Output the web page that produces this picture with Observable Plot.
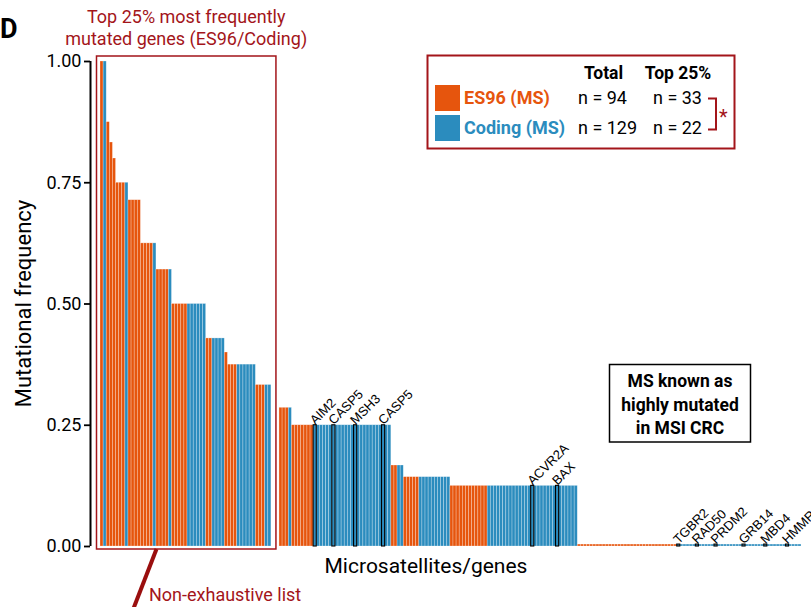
<!DOCTYPE html>
<html>
<head>
<meta charset="utf-8">
<script src="https://cdn.jsdelivr.net/npm/d3@7"></script>
<script src="https://cdn.jsdelivr.net/npm/@observablehq/plot@0.6"></script>
<style>
  html, body { margin: 0; padding: 0; background: white; }
  #chart { width: 811px; height: 607px; overflow: hidden; }
</style>
</head>
<body>
<div id="chart"></div>
<script>
// ---- data ----
// Runs of consecutive bars, sorted by mutational frequency
const groupTypes  = ["ES96","Coding","ES96","ES96","ES96","ES96","Coding","ES96","ES96","Coding","ES96","Coding","ES96","Coding","ES96","Coding","ES96","ES96","Coding","ES96","Coding",
                     "ES96","Coding","ES96","Coding","ES96","Coding","ES96","Coding","ES96","Coding","ES96","Coding"];
const groupValues = [1.00,1.00,0.875,0.833,0.80,0.75,0.75,0.714,0.625,0.625,0.571,0.571,0.50,0.50,0.429,0.429,0.40,0.375,0.375,0.333,0.333,
                     0.286,0.286,0.25,0.25,0.167,0.167,0.143,0.143,0.125,0.125,0.004,0.004];
const groupCounts = [1,1,1,1,1,3,1,4,4,1,4,1,5,6,2,4,1,3,6,3,2,
                     3,1,7,25,2,2,5,10,12,29,32,40];
const topN = 55; // bars inside the "Top 25%" box (33 ES96 + 22 Coding)

const geneLabels = ["AIM2","CASP5","MSH3","CASP5","ACVR2A","BAX","TGBR2","RAD50","PRDM2","GRB14","MBD4","HMMR"];
const geneIndex  = [66,72,79,88,136,144,183,189,195,204,211,218];

const yTicks = [0, 0.25, 0.5, 0.75, 1];
const legendRows = [
  {name: "ES96 (MS)",   total: "n = 94",  top: "n = 33"},
  {name: "Coding (MS)", total: "n = 129", top: "n = 22"}
];
const seriesNames = ["ES96", "Coding"];
const seriesColors = ["#e6550d", "#2b8cbe"];

// ---- layout ----
const W = 811, H = 607;
const GAP = 2.6;            // visual gap (in bar units) after the top group
const pxLeft = 100, pxRight = 801, mLeft = 90;
const darkRed = "#a3151a";

const bars = [];
let idx = 0;
groupTypes.forEach((t, g) => {
  for (let c = 0; c < groupCounts[g]; c++) {
    bars.push({i: idx, pos: idx + (idx >= topN ? GAP : 0), type: t, value: groupValues[g]});
    idx++;
  }
});
const nBars = bars.length;
const k = (pxRight - pxLeft) / (nBars + GAP);
const d0 = -(pxLeft - mLeft) / k;
const d1 = d0 + (W - mLeft) / k;

const labeled = geneIndex.map((gi, j) => ({...bars[gi], label: geneLabels[j]}));

const plot = Plot.plot({
  width: W, height: H,
  marginTop: 61, marginBottom: 61, marginLeft: mLeft, marginRight: 0,
  style: {fontFamily: "Roboto", fontSize: "18px", color: "black", background: "white", overflow: "hidden"},
  x: {domain: [d0, d1], axis: null},
  y: {domain: [0, 1], axis: null},
  color: {domain: seriesNames, range: seriesColors},
  marks: [
    Plot.rectY(bars, {x1: "pos", x2: d => d.pos + 1, y: "value", fill: "type",
      stroke: "white", strokeWidth: 0.6, strokeOpacity: 0.45}),
    Plot.rectY(labeled, {x1: "pos", x2: d => d.pos + 1, y: "value",
      fill: "none", stroke: "black", strokeWidth: 1.1}),
    Plot.text(labeled, {x: d => d.pos + 0.5, y: "value", text: "label", rotate: -45,
      textAnchor: "start", dx: -3, dy: -3, fontSize: 13, fontFamily: "Liberation Sans, Arial, sans-serif", fill: "black"}),
    Plot.axisY({ticks: yTicks, tickFormat: d3.format(".2f"), tickSize: 6, tickPadding: 3,
      fontSize: 18, label: null, strokeWidth: 1.8}),
    Plot.ruleX([d0], {y1: 0, y2: 1, stroke: "black", strokeWidth: 2})
  ]
});
document.getElementById("chart").appendChild(plot);

// ---- annotations ----
const svg = d3.select(plot);
const xs = plot.scale("x"), ys = plot.scale("y");
const X = v => xs.apply(v), Y = v => ys.apply(v);
const txt = (sel, x, y, s, size, opts = {}) => sel.append("text")
  .attr("x", x).attr("y", y)
  .attr("text-anchor", opts.anchor || "start")
  .attr("font-size", size)
  .attr("font-weight", opts.bold ? 700 : 400)
  .attr("font-family", "Roboto")
  .attr("fill", opts.fill || "black")
  .text(s);

// panel letter
txt(svg, 0, 38, "D", 27, {bold: true});

// top-25% box
const boxL = X(0) - 3.5, boxR = (X(topN) + X(topN + GAP)) / 2 + 1;
const boxT = Y(1) - 5, boxB = Y(0) + 3;
svg.append("rect").attr("x", boxL).attr("y", boxT).attr("width", boxR - boxL).attr("height", boxB - boxT)
  .attr("fill", "none").attr("stroke", darkRed).attr("stroke-width", 1.5);
const boxC = (boxL + boxR) / 2;
txt(svg, boxC, 23, "Top 25% most frequently", 18, {anchor: "middle", fill: darkRed});
txt(svg, boxC, 45, "mutated genes (ES96/Coding)", 18, {anchor: "middle", fill: darkRed});

// pointer line and note
svg.append("line").attr("x1", boxL + 60).attr("y1", boxB).attr("x2", boxL + 36).attr("y2", H + 4)
  .attr("stroke", "#9a0e0e").attr("stroke-width", 4);
txt(svg, 149, 601, "Non-exhaustive list", 18, {fill: darkRed});

// axis titles
svg.append("text").attr("transform", `translate(31,${(Y(0) + Y(1)) / 2}) rotate(-90)`)
  .attr("text-anchor", "middle").attr("font-size", 22).attr("font-family", "Roboto").text("Mutational frequency");
txt(svg, 426, 573, "Microsatellites/genes", 21, {anchor: "middle"});

// legend box
const lg = svg.append("g");
lg.append("rect").attr("x", 427.5).attr("y", 55.5).attr("width", 307).attr("height", 93)
  .attr("fill", "white").attr("stroke", darkRed).attr("stroke-width", 2);
txt(lg, 603.5, 79, "Total", 17.5, {anchor: "middle", bold: true});
txt(lg, 678, 79, "Top 25%", 17.5, {anchor: "middle", bold: true});
legendRows.forEach((r, j) => {
  const yT = 85 + j * 30;
  lg.append("rect").attr("x", 435).attr("y", yT).attr("width", 25).attr("height", 26).attr("fill", seriesColors[j]);
  txt(lg, 464, yT + 19, r.name, 18, {bold: true, fill: seriesColors[j]});
  txt(lg, 578, yT + 19, r.total, 18);
  txt(lg, 653, yT + 19, r.top, 18);
});
lg.append("path").attr("d", "M708,98.5H716V129.5H708").attr("fill", "none").attr("stroke", darkRed).attr("stroke-width", 2);
txt(lg, 719, 124, "*", 20, {fill: darkRed});

// MS known box
const mb = svg.append("g");
mb.append("rect").attr("x", 609.5).attr("y", 364.5).attr("width", 141).attr("height", 77.5)
  .attr("fill", "white").attr("stroke", "black").attr("stroke-width", 1.5);
["MS known as", "highly mutated", "in MSI CRC"].forEach((t, j) => {
  txt(mb, 680, 387 + j * 23.5, t, 17.5, {anchor: "middle", bold: true});
});
</script>
</body>
</html>
